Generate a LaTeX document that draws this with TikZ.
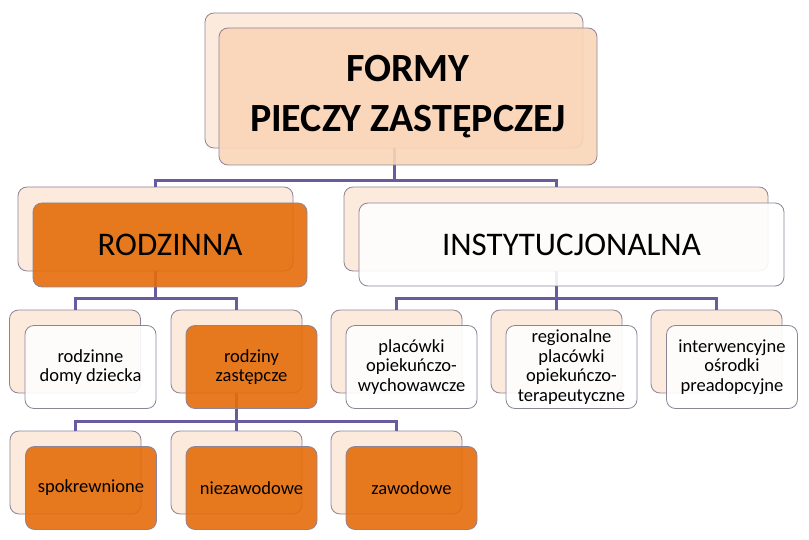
\documentclass[tikz,border=0pt]{standalone}
\usepackage{fontspec}
\setmainfont{Carlito}
\usetikzlibrary{calc, positioning}
\definecolor{pieczorange}{HTML}{E46C0A}
\definecolor{pieczpeach}{HTML}{FAD6B8}
\definecolor{pieczback}{HTML}{FCEADD}
\definecolor{pieczline}{HTML}{6A5A9E}
\definecolor{pieczedge}{HTML}{8E8498}

\begin{document}
\begin{tikzpicture}[x=1pt, y=-1pt]
        \useasboundingbox (0, 0) rectangle (809, 540);

        \tikzstyle{back} = [draw=pieczedge, fill=pieczback, rounded corners=9pt, line width=0.8pt];
        \tikzstyle{front} = [draw=pieczedge, rounded corners=9pt, line width=0.8pt, fill opacity=0.9, text opacity=1, align=center, font=\fontsize{18.5}{19.5}\selectfont];
        \tikzstyle{orange} = [fill=pieczorange];
        \tikzstyle{plain} = [fill=white];
        \tikzstyle{small} = [minimum width=131pt, minimum height=83pt];
        \tikzstyle{conn} = [draw=pieczline, line width=3pt];

        % back boxes
        \node [back, minimum width=378pt, minimum height=135pt] (Btop) at (394, 80.5) { };
        \node [back, minimum width=275pt, minimum height=84pt] (Brodz) at (155.5, 229) { };
        \node [back, minimum width=424pt, minimum height=84pt] (Binst) at (556, 229) { };

        \foreach \x [count=\i] in {75, 236.5, 396.5, 556.5, 716.5}{
            \node [back, small] (Bl\i) at (\x, 351.5) { };
        }
        \foreach \x [count=\i] in {75.5, 236.5, 396.5}{
            \node [back, small] (Bs\i) at (\x, 472.5) { };
        }

        % connectors
        \coordinate (busA) at ($(Btop.south) + (0, 32)$);
        \coordinate (busB) at ($(Brodz.south) + (0, 27)$);
        \coordinate (busC) at ($(Binst.south) + (0, 27)$);
        \coordinate (busD) at ($(Bl2.south) + (0, 28)$);

        \draw [conn] (Btop.south) -- (busA) -| (Brodz.north);
        \draw [conn] (busA) -| (Binst.north);
        \foreach \i in {1, 2}{
            \draw [conn] (Brodz.south) -- (busB) -| (Bl\i.north);
        }
        \foreach \i in {3, 4, 5}{
            \draw [conn] (Binst.south) -- (busC) -| (Bl\i.north);
        }
        \foreach \i in {1, ..., 3}{
            \draw [conn] (Bl2.south) -- (busD) -| (Bs\i.north);
        }

        % front boxes
        \node [front, fill=pieczpeach, minimum width=378pt, minimum height=137pt,
            font=\bfseries\fontsize{40}{50}\selectfont] (Ftop) at ($(Btop) + (14, 16)$) {FORMY\\PIECZY ZASTĘPCZEJ};
        \node [front, orange, minimum width=274pt, minimum height=84pt,
            font=\fontsize{33}{40}\selectfont] (Frodz) at ($(Brodz) + (14.5, 16)$) {RODZINNA};
        \node [front, plain, minimum width=425pt, minimum height=83pt,
            font=\fontsize{33}{40}\selectfont] (Finst) at ($(Binst) + (15.5, 15.5)$) {INSTYTUCJONALNA};

        \node [front, plain, small] (Fl1) at ($(Bl1) + (15.5, 15.5)$) {rodzinne\\domy dziecka};
        \node [front, orange, small] (Fl2) at ($(Bl2) + (15, 15.5)$) {rodziny\\zastępcze};
        \node [front, plain, small] (Fl3) at ($(Bl3) + (15, 15.5)$) {placówki\\opiekuńczo-\\wychowawcze};
        \node [front, plain, small] (Fl4) at ($(Bl4) + (15, 15.5)$) {regionalne\\placówki\\opiekuńczo-\\terapeutyczne};
        \node [front, plain, small] (Fl5) at ($(Bl5) + (15.5, 15.5)$) {interwencyjne\\ośrodki\\preadopcyjne};

        \node [front, orange, small] (Fs1) at ($(Bs1) + (15.5, 15.5)$) {spokrewnione};
        \node [front, orange, small] (Fs2) at ($(Bs2) + (15, 15.5)$) {niezawodowe};
        \node [front, orange, small] (Fs3) at ($(Bs3) + (15, 15.5)$) {zawodowe};
    \end{tikzpicture}
\end{document}
